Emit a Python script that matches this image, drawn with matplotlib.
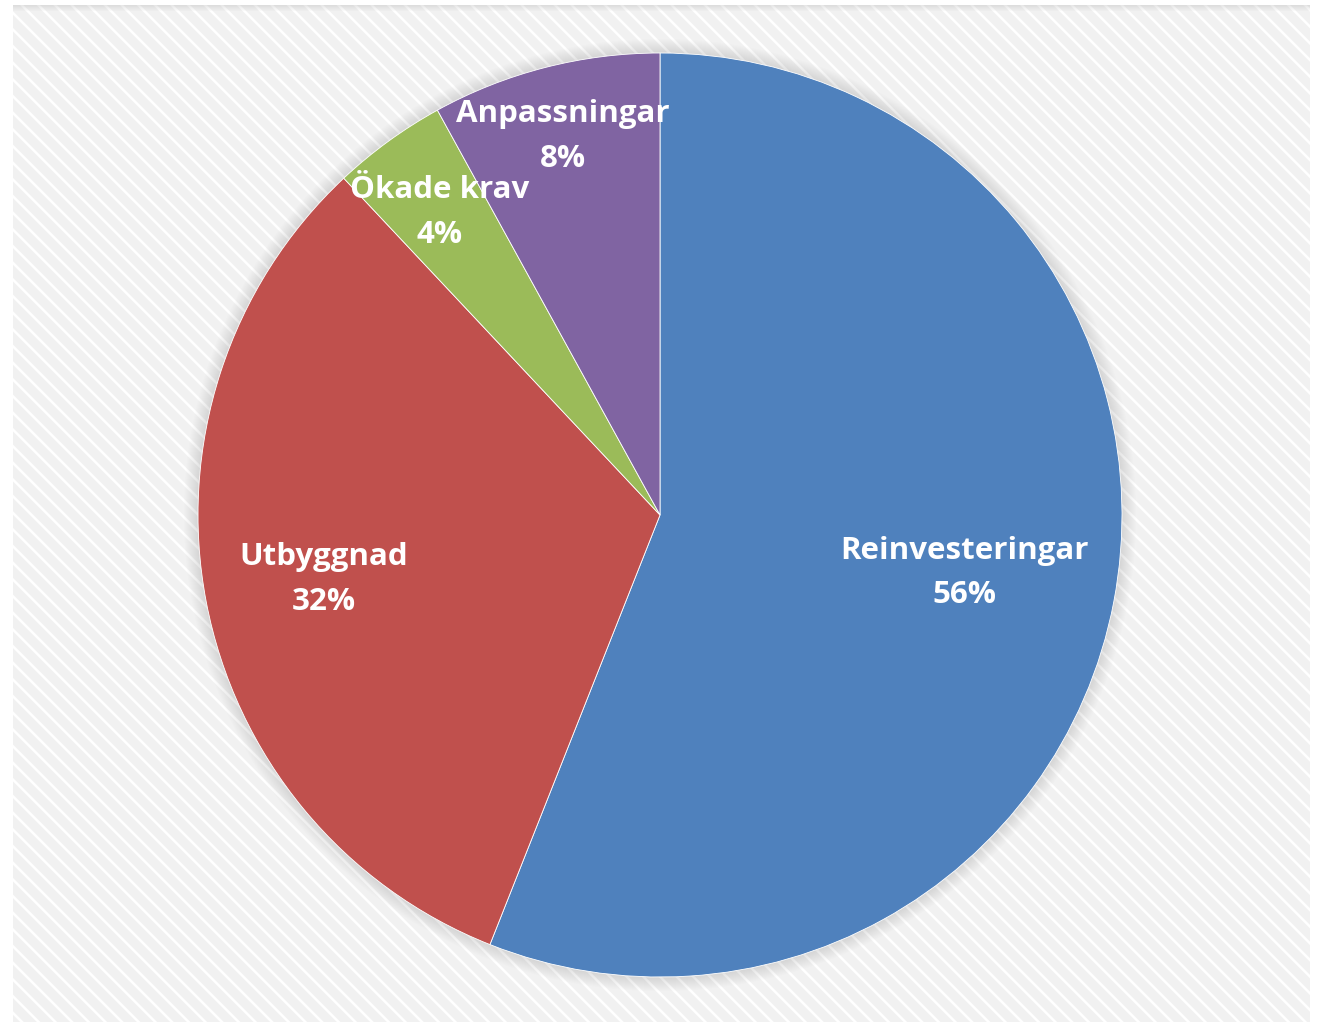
import numpy as np
import matplotlib.pyplot as plt
from matplotlib.patches import Rectangle, Circle

# andelar av investeringarna, medurs fran klockan tolv
kategorier = ["Reinvesteringar", "Utbyggnad", "Ökade krav", "Anpassningar"]
andelar = [56, 32, 4, 8]
farger = ["#4F81BD", "#C0504D", "#9BBB59", "#8064A2"]
etikett_avstand = [0.67, 0.74, 0.81, 0.845]

W, H = 1324, 1024
plt.rcParams["hatch.color"] = "white"
plt.rcParams["hatch.linewidth"] = 1.8

fig = plt.figure(figsize=(W/100, H/100), dpi=100)
fig.patch.set_facecolor("white")

# randig bakgrundsyta
bg = fig.add_axes([0, 0, 1, 1])
bg.set_xlim(0, W)
bg.set_ylim(H, 0)
bg.axis("off")
bg.add_patch(Rectangle((13, 5), 1297, 1017, facecolor="#f1f1f1", linewidth=0))
bg.add_patch(Rectangle((13, 5), 1297, 1017, facecolor="none", edgecolor="white",
                       hatch="\\\\", linewidth=0))
# skugga i overkanten
for i in range(6):
    bg.add_patch(Rectangle((13, 5 + i), 1297, 1, facecolor="#b0b0b0", alpha=0.3*(1 - i/6), linewidth=0))

# mjuk skugga runt cirkeln
cx, cy, r = 660, 515, 462
for k in range(14):
    bg.add_patch(Circle((cx, cy), r + 14 - k, facecolor="#9a9a9a", alpha=0.02, linewidth=0))

ax = fig.add_axes([(cx - r)/W, (H - cy - r)/H, 2*r/W, 2*r/H])
wedges, _ = ax.pie(andelar, colors=farger, startangle=90, counterclock=False,
                   wedgeprops=dict(edgecolor="white", linewidth=0.6))
ax.set_xlim(-1, 1)
ax.set_ylim(-1, 1)
ax.axis("off")

for w, namn, p, d in zip(wedges, kategorier, andelar, etikett_avstand):
    ang = np.deg2rad((w.theta1 + w.theta2) / 2)
    ax.text(d*np.cos(ang), d*np.sin(ang), f"{namn}\n{p}%", ha="center", va="center",
            color="white", fontsize=22.5, fontweight="bold", family="Open Sans",
            linespacing=1.65)

fig.savefig("out.png", dpi=100)
